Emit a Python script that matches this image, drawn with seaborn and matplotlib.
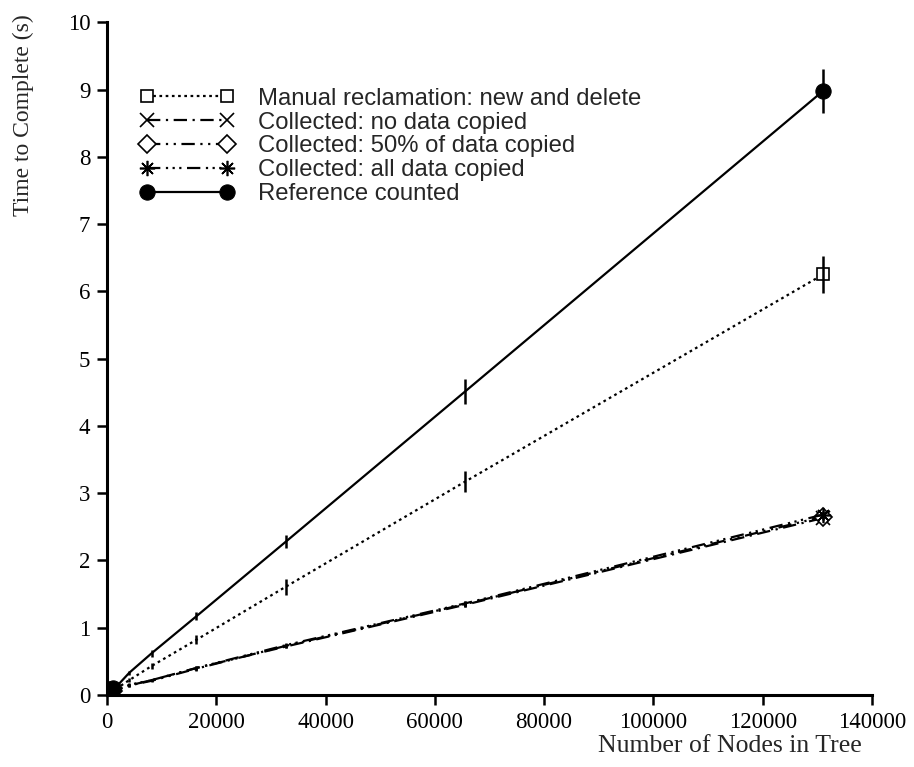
"""
Tree allocation benchmark: time to complete vs number of nodes
"""
import numpy as np
import pandas as pd
import matplotlib
matplotlib.use("Agg")
import matplotlib.pyplot as plt
import seaborn as sns

sns.set_style("ticks")
plt.rcParams['font.family'] = ['Liberation Serif', 'DejaVu Serif']

# data
nodes = [512, 1024, 2048, 4096, 8192, 16384, 32768, 65536, 131072]

manual = [0.06, 0.08, 0.11, 0.22, 0.43, 0.82, 1.61, 3.17, 6.25]
manual_err = [0.01, 0.01, 0.02, 0.03, 0.04, 0.07, 0.12, 0.16, 0.27]

coll_none = [0.04, 0.06, 0.08, 0.14, 0.22, 0.40, 0.72, 1.34, 2.63]
coll_half = [0.04, 0.06, 0.08, 0.14, 0.21, 0.39, 0.73, 1.35, 2.65]
coll_all = [0.05, 0.06, 0.09, 0.15, 0.22, 0.40, 0.74, 1.36, 2.68]
coll_err = [0.01, 0.01, 0.01, 0.02, 0.02, 0.03, 0.03, 0.04, 0.05]

refcount = [0.09, 0.11, 0.15, 0.33, 0.62, 1.17, 2.28, 4.51, 8.98]
refcount_err = [0.02, 0.02, 0.02, 0.03, 0.05, 0.06, 0.10, 0.18, 0.33]

labels = [
    'Manual reclamation: new and delete',
    'Collected: no data copied',
    'Collected: 50% of data copied',
    'Collected: all data copied',
    'Reference counted',
]

fig = plt.figure(figsize=(9.14, 7.67), dpi=100)
ax = fig.add_axes([0.117, 0.094, 0.837, 0.877])

series = [
    (manual, manual_err, dict(linestyle=(0, (1.2, 1.6)), marker='s', markersize=9,
                              markerfacecolor='white', markeredgewidth=1.2)),
    (coll_none, coll_err, dict(linestyle=(0, (6, 2.5, 1, 2.5)), marker='x', markersize=10,
                               markeredgewidth=1.2)),
    (coll_half, coll_err, dict(linestyle=(0, (6, 2.5, 1, 2.5, 1, 2.5)), marker='D', markersize=9,
                               markerfacecolor='white', markeredgewidth=1.2)),
    (coll_all, coll_err, dict(linestyle=(0, (6, 2.5, 1, 2, 1, 2, 1, 2.5)), marker=(8, 2, 0),
                              markersize=11, markeredgewidth=1.2)),
    (refcount, refcount_err, dict(linestyle='-', marker='o', markersize=11,
                                  markerfacecolor='black')),
]

marks = [0, 1, len(nodes) - 1]
for (vals, errs, style), lab in zip(series, labels):
    sns.lineplot(x=nodes, y=vals, ax=ax, color='black', linewidth=1.6,
                 markevery=marks, markeredgecolor='black', label=lab, **style)
    ax.errorbar(nodes, vals, yerr=errs, fmt='none', ecolor='black',
                elinewidth=1.8, capsize=0)

ax.set_xlim(0, 140000)
ax.set_ylim(0, 10)
ax.set_xticks(np.arange(0, 140001, 20000))
ax.set_yticks(np.arange(0, 11, 1))
ax.tick_params(axis='both', labelsize=16.5, length=7, width=1.8, direction='out',
               colors='black', pad=5)
for side in ['top', 'right']:
    ax.spines[side].set_visible(False)
for side in ['left', 'bottom']:
    ax.spines[side].set_linewidth(2.2)
    ax.spines[side].set_color('black')

ax.set_xlabel('Number of Nodes in Tree', fontsize=18.5, loc='right')
ax.xaxis.set_label_coords(0.987, -0.06)
ax.set_ylabel('Time to Complete (s)', fontsize=17, loc='top')
ax.yaxis.set_label_coords(-0.095, 1.012)

leg = ax.legend(loc='upper left', bbox_to_anchor=(0.031, 0.917), frameon=False,
                prop={'family': 'Liberation Sans', 'size': 17.2},
                handlelength=3.95, handletextpad=0.96, labelspacing=0.08,
                numpoints=2, borderaxespad=0)

fig.savefig('out.png', dpi=100, facecolor='white')
